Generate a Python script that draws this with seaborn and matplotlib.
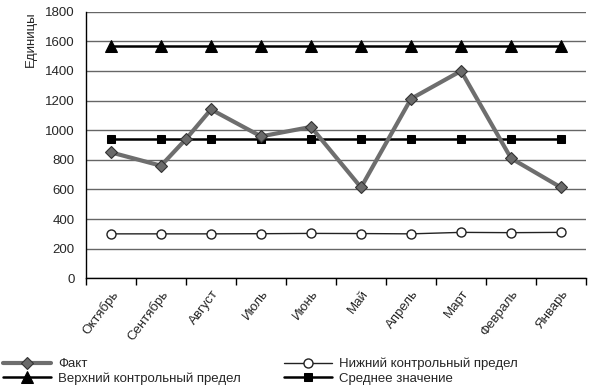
import matplotlib
matplotlib.use("Agg")
import matplotlib.pyplot as plt
import seaborn as sns
import numpy as np
from matplotlib.ticker import FixedLocator, MultipleLocator

months = ["Октябрь", "Сентябрь", "Август", "Июль", "Июнь", "Май",
          "Апрель", "Март", "Февраль", "Январь"]
fact_pos = [0, 1, 1.5, 2, 3, 4, 5, 6, 7, 8, 9]
fact = [850, 760, 940, 1140, 958, 1022, 613, 1212, 1400, 810, 613]
upper = [1565] * 10
lower = [300, 300, 300, 301, 303, 302, 300, 310, 308, 310]
mean = [940] * 10

sns.set_theme(style="white")
plt.rcParams['font.family'] = ['Liberation Sans', 'DejaVu Sans']
FS = 9.5

fig = plt.figure(figsize=(5.89, 3.89), dpi=100)
ax = fig.add_axes([0.146, 0.2846, 0.849, 0.6854])

pos = list(range(len(months)))
sns.lineplot(x=pos, y=upper, ax=ax, color="black", lw=1.8, marker="^",
             markersize=8, markeredgecolor="black", label="Верхний контрольный предел", zorder=3)
sns.lineplot(x=pos, y=mean, ax=ax, color="black", lw=1.8, marker="s",
             markersize=6, markeredgecolor="black", label="Среднее значение", zorder=3)
sns.lineplot(x=pos, y=lower, ax=ax, color="#222222", lw=1.0, marker="o",
             markersize=6.5, markerfacecolor="white", markeredgecolor="#222222",
             markeredgewidth=1.0, label="Нижний контрольный предел", zorder=3)
sns.lineplot(x=fact_pos, y=fact, ax=ax, color="#6e6e6e", lw=3, marker="D",
             markersize=6.5, markerfacecolor="#6a6a6a", markeredgecolor="#333333",
             markeredgewidth=0.8, label="Факт", zorder=4, sort=False)

ax.set_xlim(-0.5, 9.5)
ax.set_ylim(0, 1800)
ax.yaxis.set_major_locator(MultipleLocator(200))
ax.grid(axis="y", color="#666666", lw=1)
ax.set_axisbelow(True)

ax.set_xticks(pos)
ax.set_xticklabels(months, rotation=53, ha="right", rotation_mode="anchor", fontsize=FS)
ax.xaxis.set_minor_locator(FixedLocator(np.arange(-0.5, 10, 1)))
ax.tick_params(axis="x", which="major", length=0, pad=7)
ax.tick_params(axis="x", which="minor", length=5, width=1, color="black", direction="out", bottom=True)
ax.tick_params(axis="y", labelsize=FS, length=0, pad=8)

for s in ["top", "right"]:
    ax.spines[s].set_visible(False)
for s in ["left", "bottom"]:
    ax.spines[s].set_color("black")
    ax.spines[s].set_linewidth(1)

ax.set_ylabel("Единицы", fontsize=FS)
ax.yaxis.set_label_coords(-0.123, 1.0)
ax.yaxis.label.set_va("top")
ax.yaxis.label.set_ha("right")

handles, labels = ax.get_legend_handles_labels()
ax.get_legend().remove()
hmap = dict(zip(labels, handles))
left_items = ["Факт", "Верхний контрольный предел"]
right_items = ["Нижний контрольный предел", "Среднее значение"]
common = dict(loc="upper left", frameon=False, fontsize=FS, handlelength=3.6,
              borderpad=0, borderaxespad=0, labelspacing=0.15, handletextpad=0.6)
leg1 = fig.legend([hmap[k] for k in left_items], left_items,
                  bbox_to_anchor=(3 / 589, 1 - 358 / 389), **common)
leg2 = fig.legend([hmap[k] for k in right_items], right_items,
                  bbox_to_anchor=(284 / 589, 1 - 358 / 389), **common)

fig.savefig("out.png", dpi=100)
